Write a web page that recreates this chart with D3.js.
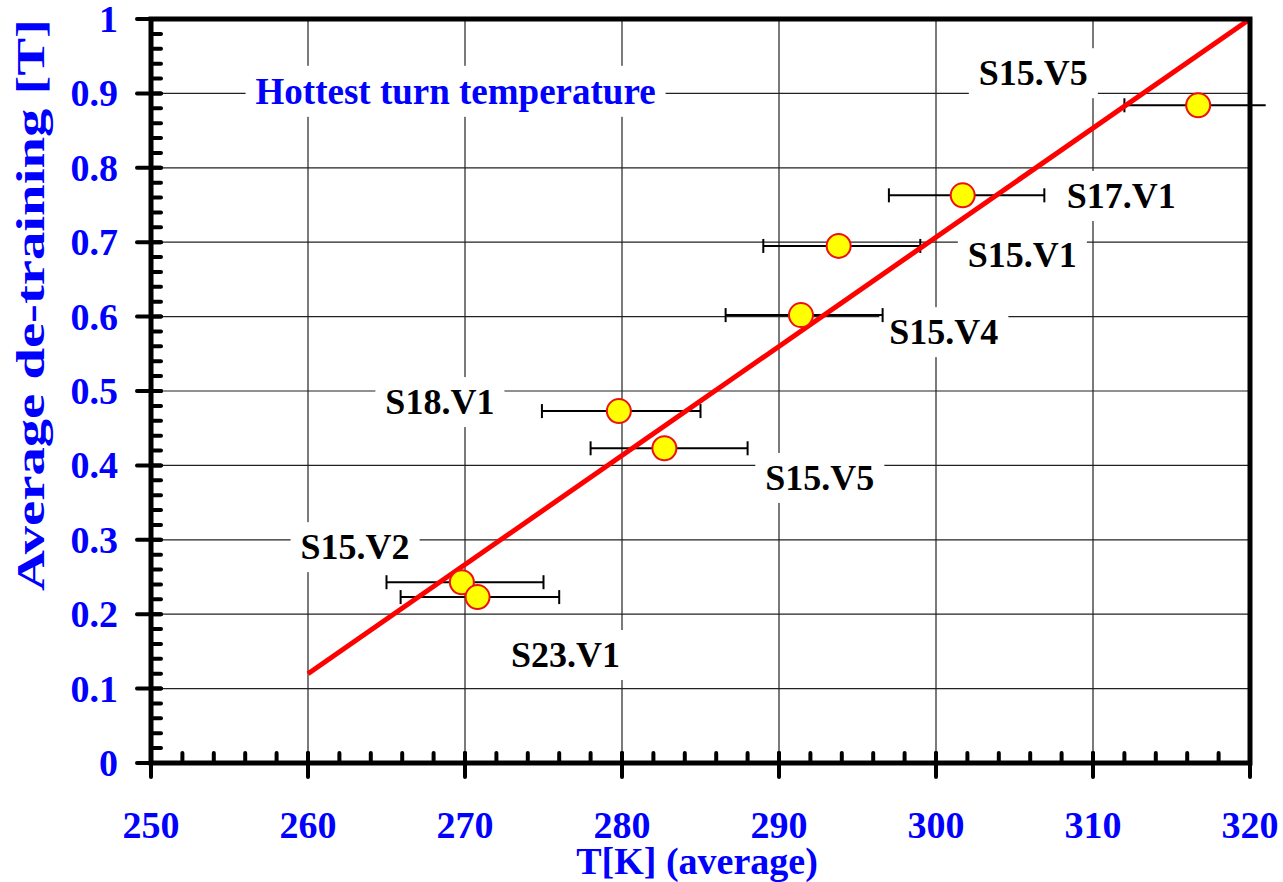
<!DOCTYPE html>
<html>
<head>
<meta charset="utf-8">
<script src="https://cdn.jsdelivr.net/npm/d3@7"></script>
<style>
  body { margin: 0; background: #fff; }
  text { font-family: "Liberation Serif", "Times New Roman", serif; font-weight: bold; }
</style>
</head>
<body>
<svg id="chart" width="1283" height="882"></svg>
<script>
// measured points: temperature, de-training, error bar ends
const pointT = [316.7, 301.7, 293.8, 291.4, 279.8, 282.7, 269.8, 270.8]
const pointB = [0.884, 0.763, 0.695, 0.602, 0.473, 0.423, 0.243, 0.223]
const errLo = [312.0, 297.0, 289.0, 286.6, 274.9, 278.0, 265.0, 265.9]
const errHi = [321.0, 306.9, 299.0, 296.6, 285.0, 288.0, 275.0, 276.0]
const capHi = [false, true, true, true, true, true, true, true]

// fitted line ends
const fitT = [260, 320]
const fitB = [0.12, 1.0]

// annotation labels (data coords, centre x / baseline y)
const labelText = ["S15.V5", "S17.V1", "S15.V1", "S15.V4", "S18.V1", "S15.V5", "S15.V2", "S23.V1"]
const labelT = [306.2, 311.8, 305.5, 300.5, 268.4, 292.6, 263.0, 276.4]
const labelB = [0.911, 0.746, 0.667, 0.563, 0.469, 0.367, 0.274, 0.129]

const titleText = "Hottest turn temperature"
const titleT = 269.4, titleB = 0.886

const xTicks = d3.range(250, 321, 10)
const yTicks = d3.range(0, 1.001, 0.1).map(v => +v.toFixed(1))
const xMinor = d3.range(250, 321, 2)
const yMinor = d3.range(0, 1.001, 0.02).map(v => +v.toFixed(2))

const blue = "#0000ff"
const svg = d3.select("#chart")
const x = d3.scaleLinear().domain([250, 320]).range([151, 1250])
const y = d3.scaleLinear().domain([0, 1]).range([763, 19])

/* grid lines */
svg.append("g").selectAll("line.vg").data(xTicks.slice(1, -1)).join("line")
    .attr("x1", d => x(d)).attr("x2", d => x(d))
    .attr("y1", y(0)).attr("y2", y(1))
    .attr("stroke", "#222").attr("stroke-width", 1.2)
svg.append("g").selectAll("line.hg").data(yTicks.slice(1, -1)).join("line")
    .attr("x1", x(250)).attr("x2", x(320))
    .attr("y1", d => y(d)).attr("y2", d => y(d))
    .attr("stroke", "#222").attr("stroke-width", 1.2)

/* white boxes behind labels */
const boxLayer = svg.append("g")
const markLayer = svg.append("g")
const textLayer = svg.append("g")

const labels = labelText.map((t, i) => ({ t, x: labelT[i], y: labelB[i], color: "#000", size: 36 }))
labels.push({ t: titleText, x: titleT, y: titleB, color: blue, size: 37 })

textLayer.selectAll("text").data(labels).join("text")
    .attr("x", d => x(d.x)).attr("y", d => y(d.y))
    .attr("text-anchor", "middle")
    .attr("font-size", d => d.size)
    .attr("fill", d => d.color)
    .text(d => d.t)
    .each(function () {
        const b = this.getBBox()
        boxLayer.append("rect")
            .attr("x", b.x - 10).attr("y", b.y - 5)
            .attr("width", b.width + 20).attr("height", b.height + 10)
            .attr("fill", "#fff")
    })

/* error bars */
const pts = pointT.map((t, i) => ({ t, b: pointB[i], lo: errLo[i], hi: errHi[i], cap: capHi[i] }))
const eb = markLayer.append("g").attr("stroke", "#000").attr("stroke-width", 2)
eb.selectAll("line.bar").data(pts).join("line")
    .attr("x1", d => x(d.lo)).attr("x2", d => x(d.hi))
    .attr("y1", d => y(d.b)).attr("y2", d => y(d.b))
eb.selectAll("line.lcap").data(pts).join("line")
    .attr("x1", d => x(d.lo)).attr("x2", d => x(d.lo))
    .attr("y1", d => y(d.b) - 7).attr("y2", d => y(d.b) + 7)
eb.selectAll("line.rcap").data(pts.filter(d => d.cap)).join("line")
    .attr("x1", d => x(d.hi)).attr("x2", d => x(d.hi))
    .attr("y1", d => y(d.b) - 7).attr("y2", d => y(d.b) + 7)

/* fit line */
markLayer.append("line")
    .attr("x1", x(fitT[0])).attr("y1", y(fitB[0]))
    .attr("x2", x(fitT[1])).attr("y2", y(fitB[1]))
    .attr("stroke", "#ff0000").attr("stroke-width", 5)

/* points */
markLayer.selectAll("circle").data(pts).join("circle")
    .attr("cx", d => x(d.t)).attr("cy", d => y(d.b)).attr("r", 12)
    .attr("fill", "#ffff00").attr("stroke", "#ee1111").attr("stroke-width", 2)

/* frame and ticks */
const axis = svg.append("g").attr("stroke", "#000").attr("stroke-linecap", "round")
axis.append("rect")
    .attr("x", x(250)).attr("y", y(1))
    .attr("width", x(320) - x(250)).attr("height", y(0) - y(1))
    .attr("fill", "none").attr("stroke-width", 5)
axis.selectAll("line.xm").data(xMinor).join("line")
    .attr("x1", d => x(d)).attr("x2", d => x(d))
    .attr("y1", y(0)).attr("y2", y(0) - 10)
    .attr("stroke-width", 4)
axis.selectAll("line.xM").data(xTicks).join("line")
    .attr("x1", d => x(d)).attr("x2", d => x(d))
    .attr("y1", y(0) - 10).attr("y2", y(0) + 14)
    .attr("stroke-width", 4)
axis.selectAll("line.ym").data(yMinor).join("line")
    .attr("y1", d => y(d)).attr("y2", d => y(d))
    .attr("x1", x(250)).attr("x2", x(250) + 10)
    .attr("stroke-width", 4)
axis.selectAll("line.yM").data(yTicks).join("line")
    .attr("y1", d => y(d)).attr("y2", d => y(d))
    .attr("x1", x(250) - 14).attr("x2", x(250) + 10)
    .attr("stroke-width", 4)

/* tick labels */
svg.append("g").selectAll("text").data(xTicks).join("text")
    .attr("x", d => x(d)).attr("y", 838)
    .attr("text-anchor", "middle").attr("font-size", 38).attr("fill", blue)
    .text(d => d)
svg.append("g").selectAll("text").data(yTicks).join("text")
    .attr("x", 118).attr("y", d => y(d) + 13)
    .attr("text-anchor", "end").attr("font-size", 38).attr("fill", blue)
    .text(d => d)

/* axis titles */
svg.append("text")
    .attr("x", 697).attr("y", 874)
    .attr("text-anchor", "middle").attr("font-size", 38).attr("fill", blue)
    .text("T[K] (average)")
svg.append("text")
    .attr("transform", "translate(44,305) rotate(-90)")
    .attr("text-anchor", "middle").attr("font-size", 40).attr("fill", blue)
    .attr("textLength", 572).attr("lengthAdjust", "spacingAndGlyphs")
    .text("Average de-training [T]")
</script>
</body>
</html>
